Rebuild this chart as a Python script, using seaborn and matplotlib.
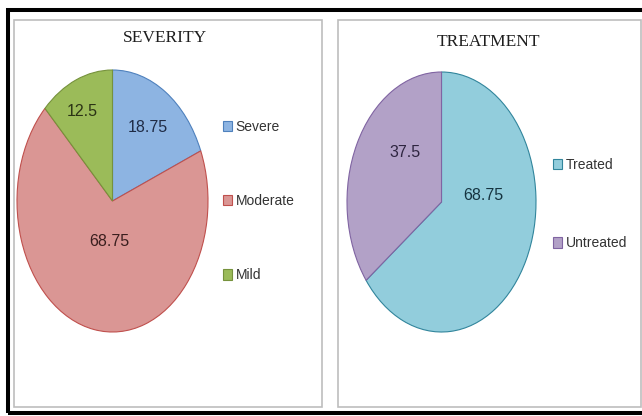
import matplotlib
matplotlib.use("Agg")
import matplotlib.pyplot as plt
from matplotlib.patches import Rectangle, Patch
import seaborn as sns

# ---- data ----
severity_labels = ["Severe", "Moderate", "Mild"]
severity_values = [18.75, 68.75, 12.5]
treatment_labels = ["Treated", "Untreated"]
treatment_values = [68.75, 37.5]

# ---- styling ----
severity_colors = ["#8DB4E2", "#DA9694", "#9BBB59"]
severity_edges = ["#4F81BD", "#C0504D", "#76923C"]
treatment_colors = ["#92CDDC", "#B2A1C7"]
treatment_edges = ["#31859C", "#8064A2"]
severity_label_colors = ["#1F2B45", "#3A1E1E", "#2B3315"]
treatment_label_colors = ["#163440", "#2E2540"]
# value-label positions in unit-pie coordinates
severity_label_xy = [(0.37, 0.56), (-0.03, -0.31), (-0.32, 0.68)]
treatment_label_xy = [(0.44, 0.05), (-0.39, 0.38)]

sns.set_theme(style="white")
plt.rcParams["font.family"] = ["Liberation Sans", "DejaVu Sans"]

W, H = 642, 416
fig = plt.figure(figsize=(W / 100, H / 100), dpi=100)
fig.patch.set_facecolor("white")


def fx(px):
    return px / W


def fy(py):
    return 1 - py / H


# outer black frame (right side runs off the canvas)
fig.add_artist(Rectangle((fx(8), fy(413)), fx(700 - 8), (413 - 10) / H,
                         transform=fig.transFigure, fill=False,
                         edgecolor="black", linewidth=2.9, clip_on=False))

# grey panel frames
for x0, x1 in [(13.5, 321.5), (337.5, 640.5)]:
    fig.add_artist(Rectangle((fx(x0), fy(407)), fx(x1 - x0), (407 - 20) / H,
                             transform=fig.transFigure, fill=False,
                             edgecolor="#BDBDBD", linewidth=1.2))


def pie_panel(cx, cy, rx, ry, values, labels, colors, edges, label_xy,
              label_colors, title, title_xy, legend_x, legend_cy, spacing):
    pad = 1.02
    ax = fig.add_axes([fx(cx - pad * rx), fy(cy + pad * ry),
                       2 * pad * rx / W, 2 * pad * ry / H])
    wedges, _ = ax.pie(values, colors=colors, startangle=90,
                       counterclock=False,
                       wedgeprops=dict(linewidth=0.8))
    for w, ec in zip(wedges, edges):
        w.set_edgecolor(ec)
    ax.set_aspect("auto")
    ax.set_xlim(-pad, pad)
    ax.set_ylim(-pad, pad)
    ax.axis("off")
    for v, (x, y), c in zip(values, label_xy, label_colors):
        ax.text(x, y, f"{v:g}", ha="center", va="center", fontsize=11.5,
                color=c)
    fig.text(fx(title_xy[0]), fy(title_xy[1]), title, ha="center",
             va="center", fontsize=12.5, color="#1E1E1E",
             family=["Liberation Serif", "DejaVu Serif"])
    handles = [Patch(facecolor=c, edgecolor=e, linewidth=0.8)
               for c, e in zip(colors, edges)]
    fig.legend(handles, labels, loc="center left",
               bbox_to_anchor=(fx(legend_x), fy(legend_cy)),
               frameon=False, fontsize=10, handlelength=0.65,
               handleheight=0.75, handletextpad=0.25, borderpad=0,
               borderaxespad=0, labelspacing=spacing, labelcolor="#333333")


pie_panel(112.5, 201, 95.5, 131, severity_values, severity_labels,
          severity_colors, severity_edges, severity_label_xy,
          severity_label_colors, "SEVERITY", (165, 38), 223, 201, 4.35)
pie_panel(441.5, 202, 94.5, 130, treatment_values, treatment_labels,
          treatment_colors, treatment_edges, treatment_label_xy,
          treatment_label_colors, "TREATMENT", (488, 41.5), 553, 204, 4.65)

fig.savefig("out.png", dpi=100, facecolor="white")
